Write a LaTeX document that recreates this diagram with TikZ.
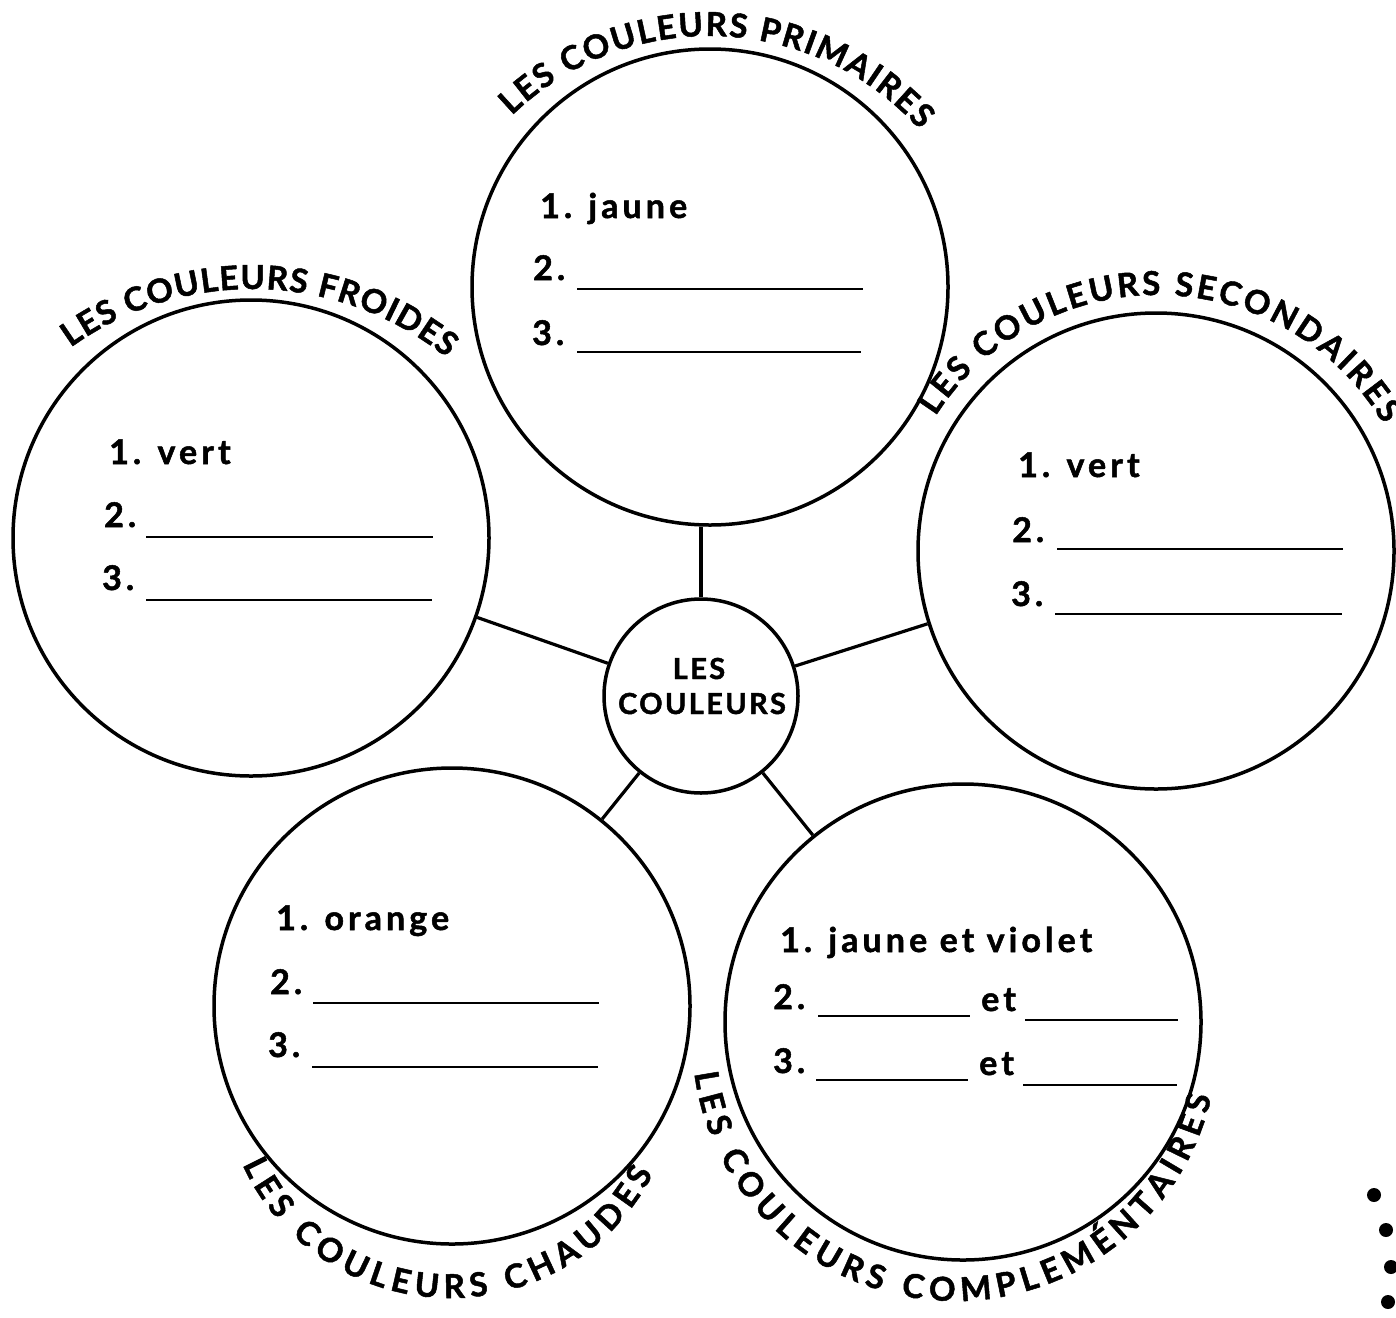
\documentclass[tikz,border=0pt]{standalone}
\usepackage{fontspec}
\setmainfont{Lato}
\newfontfamily\itemfont{Lato}[LetterSpace=12, BoldFeatures={FakeBold=1.5}]
\newfontfamily\midfont{Lato}[LetterSpace=8, BoldFeatures={FakeBold=1.5}]
\newfontfamily\heavyfont{Lato}[BoldFeatures={FakeBold=1.5}]
\usetikzlibrary{decorations.text}
\newcommand\labelfont{\heavyfont\bfseries\fontsize{33}{33}\selectfont}
\begin{document}
\begin{tikzpicture}[x=1pt,y=1pt,
  bubble/.style={circle, draw, line width=3.5pt, inner sep=0pt, minimum size=#1},
  link/.style={line width=3.2pt},
  item/.style={anchor=base west, inner sep=0pt, font=\itemfont\bfseries\fontsize{34}{34}\selectfont},
  blankline/.style={line width=2pt},
  midtext/.style={anchor=base, inner sep=0pt, font=\midfont\bfseries\fontsize{29}{29}\selectfont},
  arclabel/.style={decorate, decoration={text along path, text align={fit to path}, text={|\labelfont|#1}}}
]
\useasboundingbox (0,0) rectangle (1396,-1317);

% circles
\node[bubble=476pt] (prim) at (710,-287) {};
\node[bubble=476pt] (froi) at (251,-538) {};
\node[bubble=476pt] (seco) at (1156,-551) {};
\node[bubble=476pt] (chau) at (452,-1006) {};
\node[bubble=476pt] (comp) at (963,-1022) {};
\node[bubble=194pt] (mid) at (701,-696) {};

% connectors
\draw[link] (mid.north) -- (mid.north |- prim.south);
\draw[link] (mid) -- (froi);
\draw[link] (mid) -- (seco);
\draw[link] (mid) -- (chau);
\draw[link] (mid) -- (comp);

% centre text
\node[midtext] (les) at (699,-679) {LES};
\node[midtext] (coul) at (702,-714) {COULEURS};

% curved labels
\path[arclabel={LES COULEURS PRIMAIRES}] (709,-320) ++(134:284) arc[start angle=134, end angle=42, radius=284];
\path[arclabel={LES COULEURS FROIDES}] (252,-599) ++(125.8:310) arc[start angle=125.8, end angle=51.1, radius=310];
\path[arclabel={LES COULEURS SECONDAIRES}] (1157,-558) ++(147.4:263) arc[start angle=147.4, end angle=30.5, radius=263];
\path[arclabel={LES COULEURS CHAUDES}] (450,-1070) ++(204.5:228) arc[start angle=204.5, end angle=333, radius=228];
\path[arclabel={LES COULEURS COMPLEMÉNTAIRES}] (955,-1038) ++(187.7:263) arc[start angle=187.7, end angle=347.1, radius=263];

% primaires
\node[item] (pa) at (540,-218) {1. jaune};
\node[item] (pb) at (533,-280) {2.};
\draw[blankline] (577,-289) -- (863,-289);
\node[item] (pc) at (532,-345) {3.};
\draw[blankline] (577,-352) -- (861,-352);

% froides
\node[item] (fa) at (109,-464) {1. vert};
\node[item] (fb) at (104,-527) {2.};
\draw[blankline] (146,-537) -- (433,-537);
\node[item] (fc) at (102,-590) {3.};
\draw[blankline] (146,-600) -- (432,-600);

% secondaires
\node[item] (sa) at (1018,-477) {1. vert};
\node[item] (sb) at (1012,-542) {2.};
\draw[blankline] (1057,-549) -- (1343,-549);
\node[item] (sc) at (1011,-606) {3.};
\draw[blankline] (1055,-614) -- (1342,-614);

% chaudes
\node[item] (ca) at (276,-930) {1. orange};
\node[item] (cb) at (270,-994) {2.};
\draw[blankline] (313,-1003) -- (599,-1003);
\node[item] (cc) at (268,-1057) {3.};
\draw[blankline] (312,-1067) -- (598,-1067);

% complementaires
\node[item] (ka) at (780,-952) {1. jaune et violet};
\node[item] (kb) at (773,-1009) {2.};
\draw[blankline] (818,-1016) -- (970,-1016);
\node[item] (ket1) at (981,-1011) {et};
\draw[blankline] (1025,-1020) -- (1178,-1020);
\node[item] (kc) at (773,-1073) {3.};
\draw[blankline] (816,-1080) -- (968,-1080);
\node[item] (ket2) at (979,-1075) {et};
\draw[blankline] (1023,-1085) -- (1177,-1085);

% binding holes
\fill (1374,-1195) circle[radius=7];
\fill (1386,-1230) circle[radius=7];
\fill (1391,-1267) circle[radius=7];
\fill (1388,-1302) circle[radius=7];
\end{tikzpicture}
\end{document}
